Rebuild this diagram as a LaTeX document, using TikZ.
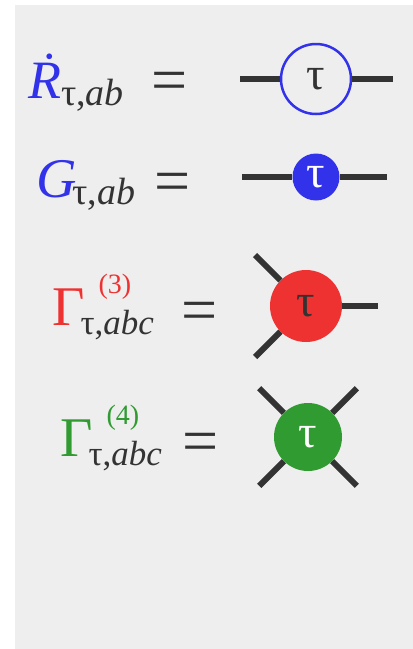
\documentclass[tikz,border=0pt]{standalone}
\usepackage{fontspec}
\setmainfont{Liberation Serif}
\usepackage{tikz}
\definecolor{panel}{RGB}{238,238,238}
\definecolor{ink}{RGB}{51,51,51}
\definecolor{rblue}{RGB}{50,50,235}
\definecolor{vred}{RGB}{238,50,50}
\definecolor{vgreen}{RGB}{48,155,48}
\newcommand{\fsz}[1]{\fontsize{#1}{#1}\selectfont}
% lowered subscript and raised superscript
\newcommand{\lowsub}[3]{\raisebox{-#1}{\fsz{#2}#3}}
\newcommand{\highsup}[2]{\rlap{\hspace{18pt}\raisebox{#1}{\fsz{28}#2}}}
\tikzset{
  leg/.style={line width=6pt,color=ink},
  vtx/.style={circle,inner sep=0pt,minimum size=#1,font=\fsz{46}},
  lab/.style={anchor=base west,inner sep=0pt,text=ink},
  eqs/.style={inner sep=0pt,text=ink,font=\fsz{64}}
}

\begin{document}
\begin{tikzpicture}[x=1pt,y=-1pt]
\useasboundingbox (0,0) rectangle (413,649);
\fill[panel] (15,5) rectangle (413,649);
% labels
\node[lab,font=\fsz{54}] (rlab) at (28,98) {{\color{rblue}\textit{\.R}}\lowsub{7pt}{38}{τ,\textit{ab}}};
\node[lab,font=\fsz{56}] (glab) at (36,197) {{\color{rblue}\textit{G}}\kern-4pt\lowsub{7pt}{38}{τ,\textit{ab}}};
\node[lab,font=\fsz{56}] (g3lab) at (52,325) {{\color{vred}Γ}\kern-4pt\highsup{32pt}{\color{vred}(3)}\lowsub{9pt}{35}{τ,\textit{abc}}};
\node[lab,font=\fsz{56}] (g4lab) at (60,456) {{\color{vgreen}Γ}\kern-4pt\highsup{32pt}{\color{vgreen}(4)}\lowsub{9pt}{35}{τ,\textit{abc}}};
\node[eqs] (eq1) at (170,87) {=};
\node[eqs] (eq2) at (173,188) {=};
\node[eqs] (eq3) at (200,317) {=};
\node[eqs] (eq4) at (201,448) {=};
% propagators
\node[vtx=70,draw=rblue,line width=2.5pt,text=ink] (rv) at (316,79) {τ};
\coordinate (rl) at (240,79);
\coordinate (rr) at (393,79);
\draw[leg] (rl) -- (rv);
\draw[leg] (rv) -- (rr);
\node[vtx=47,fill=rblue,text=white] (gv) at (316,177) {τ};
\coordinate (gl) at (242,177);
\coordinate (gr) at (387,177);
\draw[leg] (gl) -- (gv);
\draw[leg] (gv) -- (gr);
% vertices
\node[vtx=72,fill=vred,text=ink] (v3) at (306,306) {τ};
\foreach \a in {0,135,225} {
  \coordinate (v3-\a) at ([shift={(\a:72pt)}]v3);
  \draw[leg] (v3) -- (v3-\a);}
\node[vtx=68,fill=vgreen,text=white] (v4) at (308,437) {τ};
\foreach \a in {45,135,225,315} {
  \coordinate (v4-\a) at ([shift={(\a:69pt)}]v4);
  \draw[leg] (v4) -- (v4-\a);}
\end{tikzpicture}
\end{document}
